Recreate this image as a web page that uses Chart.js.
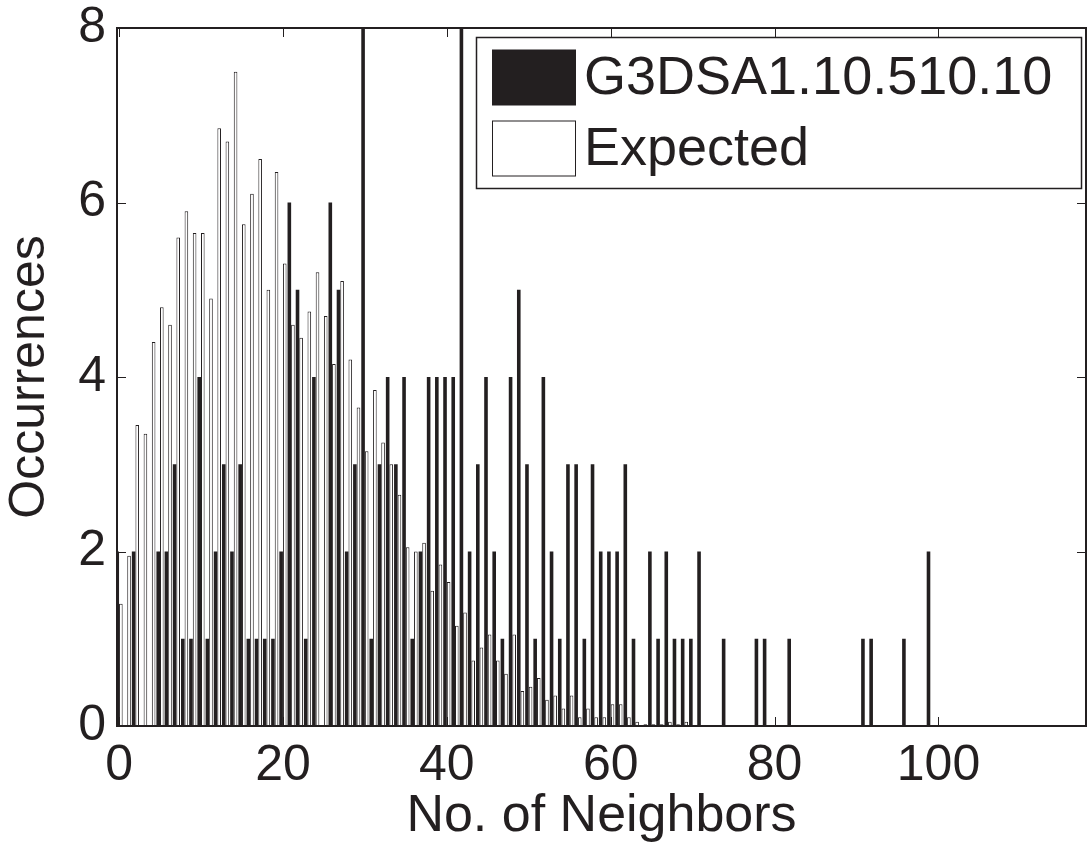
<!DOCTYPE html>
<html>
<head>
<meta charset="utf-8">
<title>No. of Neighbors</title>
<script src="https://cdn.jsdelivr.net/npm/chart.js@4.4.1/dist/chart.umd.min.js"></script>
<style>
  html, body { margin: 0; padding: 0; background: #fff; }
</style>
</head>
<body>
<canvas id="chart" width="1087" height="848"></canvas>
<script>
// series names (legend)
const seriesNames = ['G3DSA1.10.510.10', 'Expected'];

// observed occurrences, index = number of neighbors (0..99)
// 30 and 42 run off the top of the axes
const observed = [
  2, 0, 2, 0, 0, 2, 2, 3, 1, 1,
  4, 1, 2, 3, 2, 3, 1, 1, 1, 1,
  2, 6, 5, 1, 4, 0, 6, 5, 2, 3,
  10, 1, 3, 4, 3, 4, 1, 2, 4, 4,
  4, 4, 10, 2, 3, 4, 2, 1, 4, 5,
  3, 1, 4, 2, 1, 3, 3, 1, 3, 2,
  2, 2, 3, 1, 0, 2, 1, 2, 1, 1,
  1, 2, 0, 0, 1, 0, 0, 0, 1, 1,
  0, 0, 1, 0, 0, 0, 0, 0, 0, 0,
  0, 1, 1, 0, 0, 0, 1, 0, 0, 2
];

// expected occurrences, index = number of neighbors (0..69)
const expected = [
  1.4, 1.95, 3.45, 3.35, 4.4, 4.8, 4.6, 5.6, 5.9, 5.65,
  5.65, 4.9, 6.85, 6.7, 7.5, 5.75, 6.1, 6.5, 5.0, 6.35,
  5.3, 4.6, 4.45, 4.75, 5.2, 4.7, 4.15, 5.1, 4.2, 3.65,
  3.15, 3.85, 3.25, 3.0, 2.65, 2.05, 2.0, 2.1, 1.55, 1.85,
  1.65, 1.15, 1.3, 0.75, 0.9, 1.05, 0.75, 0.6, 1.05, 0.4,
  0.45, 0.55, 0.3, 0.35, 0.2, 0.35, 0.1, 0.2, 0.1, 0.1,
  0.25, 0.25, 0.1, 0.05, 0.02, 0.02, 0.02, 0.05, 0.02, 0.05
];

const xTicks = [0, 20, 40, 60, 80, 100];
const yTicks = [0, 2, 4, 6, 8];

const ink = '#231f20';
const family = '"Liberation Sans", Arial, Helvetica, sans-serif';

function toPoints(values) {
  // zero-height bars are left out so they do not leave border stubs
  return values.map((v, i) => ({ x: i, y: v > 0 ? v : null }));
}

// MATLAB style box: full frame, inward ticks, legend inside the axes
const matlabFrame = {
  id: 'matlabFrame',
  afterDraw(chart) {
    const { ctx, chartArea: a, scales } = chart;
    const len = 9;
    ctx.save();
    ctx.strokeStyle = ink;

    ctx.lineWidth = 1;
    ctx.beginPath();
    xTicks.forEach(v => {
      const px = Math.round(scales.x.getPixelForValue(v)) + 0.5;
      ctx.moveTo(px, a.bottom); ctx.lineTo(px, a.bottom - len);
      ctx.moveTo(px, a.top); ctx.lineTo(px, a.top + len);
    });
    yTicks.forEach(v => {
      const py = Math.round(scales.y.getPixelForValue(v)) + 0.5;
      ctx.moveTo(a.left, py); ctx.lineTo(a.left + len, py);
      ctx.moveTo(a.right, py); ctx.lineTo(a.right - len, py);
    });
    ctx.stroke();

    ctx.lineWidth = 2;
    ctx.strokeRect(a.left, a.top, a.right - a.left, a.bottom - a.top);

    // legend
    const box = { x: 476.5, y: 37.5, w: 605, h: 151 };
    ctx.fillStyle = '#ffffff';
    ctx.fillRect(box.x, box.y, box.w, box.h);
    ctx.lineWidth = 1.5;
    ctx.strokeRect(box.x, box.y, box.w, box.h);

    const ds = chart.data.datasets;
    const rows = [77, 148];
    ds.forEach((d, i) => {
      const top = rows[i] - 27;
      ctx.fillStyle = d.backgroundColor;
      ctx.fillRect(492.5, top, 83, 55);
      ctx.lineWidth = 1;
      ctx.strokeStyle = ink;
      ctx.strokeRect(492.5, top, 83, 55);
      ctx.fillStyle = ink;
      ctx.font = '54px ' + family;
      ctx.textAlign = 'left';
      ctx.textBaseline = 'middle';
      ctx.fillText(d.label, 584, rows[i] + 2);
    });
    ctx.restore();
  }
};

new Chart(document.getElementById('chart'), {
  type: 'bar',
  data: {
    datasets: [
      {
        label: seriesNames[0],
        data: toPoints(observed),
        backgroundColor: ink,
        borderColor: ink,
        borderWidth: 0,
        clip: 0
      },
      {
        label: seriesNames[1],
        data: toPoints(expected),
        backgroundColor: '#ffffff',
        borderColor: ink,
        borderWidth: 1,
        clip: 0
      }
    ]
  },
  options: {
    responsive: false,
    animation: false,
    categoryPercentage: 0.88,
    barPercentage: 1,
    layout: { padding: { top: 28, right: 1, left: 0, bottom: 0 } },
    plugins: {
      legend: { display: false },
      tooltip: { enabled: false }
    },
    scales: {
      x: {
        type: 'linear',
        min: -0.25,
        max: 118,
        offset: false,
        grid: { display: false, drawTicks: false },
        border: { display: false },
        afterBuildTicks: s => { s.ticks = xTicks.map(v => ({ value: v })); },
        afterFit: s => {
          s.height = 122;
          s.paddingLeft = 0;
          s.paddingRight = 0;
        },
        ticks: {
          color: ink,
          font: { family: family, size: 50 },
          padding: 10,
          maxRotation: 0,
          autoSkip: false
        },
        title: {
          display: true,
          text: 'No. of Neighbors',
          color: ink,
          font: { family: family, size: 52 },
          padding: 0
        }
      },
      y: {
        min: 0,
        max: 8,
        grid: { display: false, drawTicks: false },
        border: { display: false },
        afterBuildTicks: s => { s.ticks = yTicks.map(v => ({ value: v })); },
        afterFit: s => {
          s.width = 117;
          s.paddingTop = 0;
          s.paddingBottom = 0;
        },
        ticks: {
          color: ink,
          font: { family: family, size: 50 },
          padding: 11
        },
        title: {
          display: true,
          text: 'Occurrences',
          color: ink,
          font: { family: family, size: 50 },
          padding: 0
        }
      }
    }
  },
  plugins: [matlabFrame]
});
</script>
</body>
</html>
